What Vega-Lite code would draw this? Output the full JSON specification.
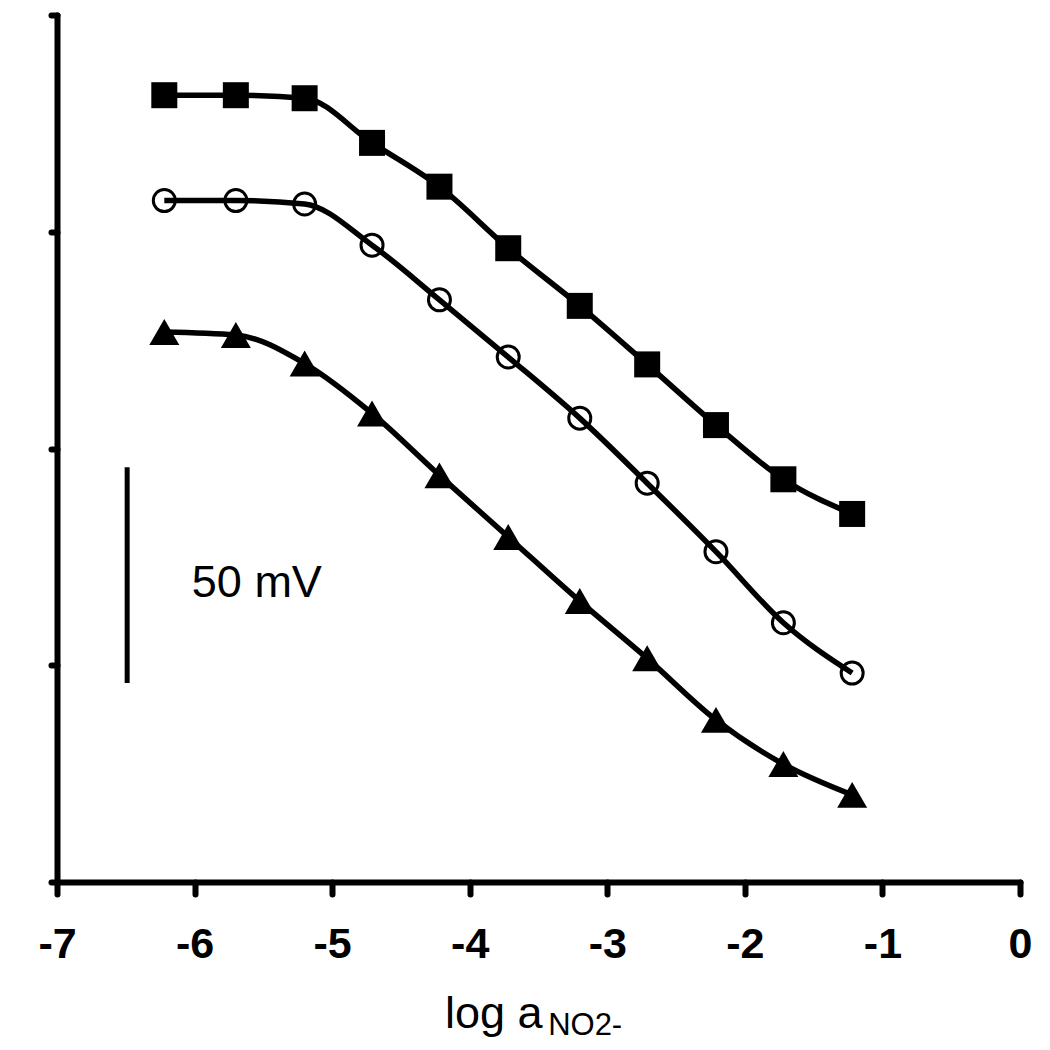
{
  "$schema": "https://vega.github.io/schema/vega-lite/v6.json",
  "width": 963,
  "height": 867,
  "autosize": "none",
  "padding": {"left": 57, "top": 15, "right": 30, "bottom": 168},
  "background": "white",
  "config": {"view": {"stroke": null}, "font": "Liberation Sans"},
  "datasets": {
    "curves": [
      {"series": "A", "x": -6.22, "y": 181.5},
      {"series": "A", "x": -5.70, "y": 181.5},
      {"series": "A", "x": -5.20, "y": 180.8},
      {"series": "A", "x": -4.71, "y": 170.5},
      {"series": "A", "x": -4.22, "y": 160.4},
      {"series": "A", "x": -3.72, "y": 146.2},
      {"series": "A", "x": -3.20, "y": 132.9},
      {"series": "A", "x": -2.71, "y": 119.4},
      {"series": "A", "x": -2.21, "y": 105.4},
      {"series": "A", "x": -1.72, "y": 92.9},
      {"series": "A", "x": -1.22, "y": 84.9},
      {"series": "B", "x": -6.22, "y": 157.2},
      {"series": "B", "x": -5.70, "y": 157.2},
      {"series": "B", "x": -5.20, "y": 156.4},
      {"series": "B", "x": -4.71, "y": 146.9},
      {"series": "B", "x": -4.22, "y": 134.3},
      {"series": "B", "x": -3.72, "y": 121.1},
      {"series": "B", "x": -3.20, "y": 107.0},
      {"series": "B", "x": -2.71, "y": 92.0},
      {"series": "B", "x": -2.21, "y": 76.2},
      {"series": "B", "x": -1.72, "y": 59.8},
      {"series": "B", "x": -1.22, "y": 48.2},
      {"series": "C", "x": -6.22, "y": 126.9},
      {"series": "C", "x": -5.70, "y": 126.2},
      {"series": "C", "x": -5.20, "y": 119.6},
      {"series": "C", "x": -4.71, "y": 108.1},
      {"series": "C", "x": -4.22, "y": 93.8},
      {"series": "C", "x": -3.72, "y": 79.6},
      {"series": "C", "x": -3.20, "y": 64.8},
      {"series": "C", "x": -2.71, "y": 51.6},
      {"series": "C", "x": -2.21, "y": 37.4},
      {"series": "C", "x": -1.72, "y": 27.2},
      {"series": "C", "x": -1.22, "y": 20.1}
    ],
    "scalebar": [{"x": -6.49, "y": 45.9, "y2": 95.7}],
    "barlabel": [{"x": -6.02, "y": 65.7, "text": "50 mV"}],
    "titlemain": [{"x": -4.18, "y": -33.7, "text": "log a"}],
    "titlesub": [{"x": -3.43, "y": -35.3, "text": "NO2-"}]
  },
  "encoding": {
    "x": {
      "field": "x",
      "type": "quantitative",
      "scale": {"domain": [-7, 0], "nice": false, "zero": false},
      "axis": {
        "values": [-7, -6, -5, -4, -3, -2, -1, 0],
        "labelExpr": "datum.value + ''",
        "labelFont": "Liberation Sans",
        "labelFontWeight": "bold",
        "labelFontSize": 43,
        "labelColor": "black",
        "labelPadding": 29,
        "labelFlush": false,
        "labelOverlap": false,
        "tickSize": 12,
        "tickWidth": 6,
        "tickColor": "black",
        "tickCap": "round",
        "domainWidth": 6,
        "domainColor": "black",
        "domainCap": "round",
        "grid": false,
        "title": null
      }
    },
    "y": {
      "field": "y",
      "type": "quantitative",
      "scale": {"domain": [0, 200], "nice": false, "zero": false},
      "axis": {
        "values": [0, 50, 100, 150, 200],
        "labels": false,
        "tickSize": 6,
        "tickWidth": 6,
        "tickColor": "black",
        "tickCap": "round",
        "domainWidth": 6,
        "domainColor": "black",
        "domainCap": "round",
        "grid": false,
        "title": null
      }
    }
  },
  "layer": [
    {
      "data": {"name": "curves"},
      "mark": {"type": "line", "interpolate": "monotone", "strokeWidth": 5.5, "color": "black"},
      "encoding": {"detail": {"field": "series", "type": "nominal"}}
    },
    {
      "data": {"name": "curves"},
      "transform": [{"filter": "datum.series === 'A'"}],
      "mark": {"type": "point", "shape": "square", "filled": true, "size": 676, "color": "black", "opacity": 1}
    },
    {
      "data": {"name": "curves"},
      "transform": [{"filter": "datum.series === 'B'"}],
      "mark": {"type": "point", "shape": "circle", "filled": false, "size": 484, "strokeWidth": 3, "color": "black", "opacity": 1}
    },
    {
      "data": {"name": "curves"},
      "transform": [{"filter": "datum.series === 'C'"}],
      "mark": {"type": "point", "shape": "triangle-up", "filled": true, "size": 900, "color": "black", "opacity": 1}
    },
    {
      "data": {"name": "scalebar"},
      "mark": {"type": "rule", "strokeWidth": 5, "color": "black"},
      "encoding": {"y2": {"field": "y2"}}
    },
    {
      "data": {"name": "barlabel"},
      "mark": {"type": "text", "align": "left", "baseline": "alphabetic", "fontSize": 45, "font": "Liberation Sans", "color": "black"},
      "encoding": {"text": {"field": "text"}}
    },
    {
      "data": {"name": "titlemain"},
      "mark": {"type": "text", "align": "left", "baseline": "alphabetic", "fontSize": 45, "font": "Liberation Sans", "color": "black"},
      "encoding": {"text": {"field": "text"}}
    },
    {
      "data": {"name": "titlesub"},
      "mark": {"type": "text", "align": "left", "baseline": "alphabetic", "fontSize": 31, "font": "Liberation Sans", "color": "black"},
      "encoding": {"text": {"field": "text"}}
    }
  ]
}
